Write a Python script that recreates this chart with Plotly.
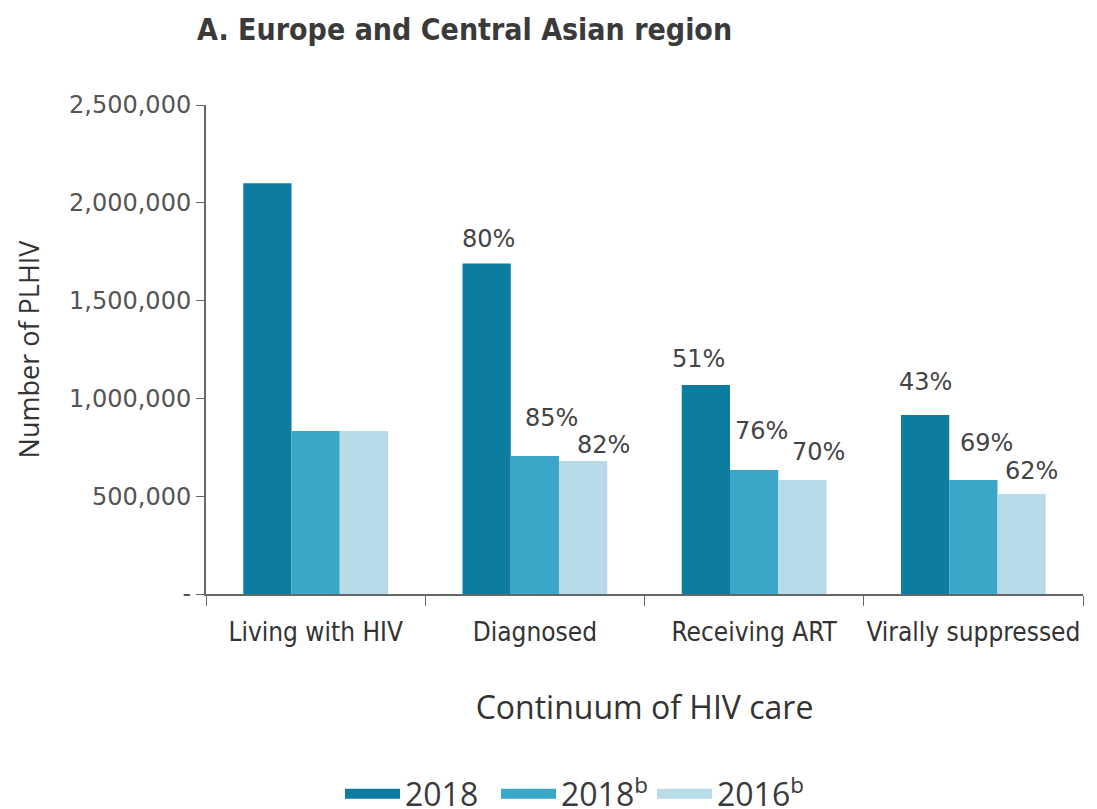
import plotly.graph_objects as go

categories = ["Living with HIV", "Diagnosed", "Receiving ART", "Virally suppressed"]
series_names = ["2018", "2018<sup>b</sup>", "2016<sup>b</sup>"]
vals_2018 = [2100000, 1690000, 1068000, 915000]
vals_2018b = [833000, 705000, 634000, 583000]
vals_2016b = [833000, 680000, 583000, 511000]
labels_2018 = ["", "80%", "51%", "43%"]
labels_2018b = ["", "85%", "76%", "69%"]
labels_2016b = ["", "82%", "70%", "62%"]
colors = ["#0c7da0", "#3aa6c8", "#b7dbe9"]
y_ticks = [0, 500000, 1000000, 1500000, 2000000, 2500000]
y_tick_text = ["-", "500,000", "1,000,000", "1,500,000", "2,000,000", "2,500,000"]

# label placement nudges in pixels (horizontal, vertical above bar top)
label_dx = [[0, 2, -7, 0], [0, 17, 7, 13], [0, 20, 16, 10]]
label_dy = [[0, 8, 10, 17], [0, 22, 23, 21], [0, 0, 12, 7]]

BARGAP = 0.34
series_vals = [vals_2018, vals_2018b, vals_2016b]
series_labels = [labels_2018, labels_2018b, labels_2016b]

fig = go.Figure()
for name, vals, col in zip(series_names, series_vals, colors):
    fig.add_trace(go.Bar(
        x=categories, y=vals, name=name, marker=dict(color=col, line=dict(width=0)),
        showlegend=False, hoverinfo="x+y",
    ))
    # legend key drawn as a thick line swatch
    fig.add_trace(go.Scatter(
        x=[None], y=[None], mode="lines", name=name,
        line=dict(color=col, width=22), showlegend=True, hoverinfo="skip",
    ))

bar_w = (1 - BARGAP) / len(series_vals)
for j, (vals, labs) in enumerate(zip(series_vals, series_labels)):
    for i, (v, t) in enumerate(zip(vals, labs)):
        if not t:
            continue
        fig.add_annotation(
            x=i + (j - 1) * bar_w, y=v, xref="x", yref="y", text=t,
            showarrow=False, xanchor="center", yanchor="bottom",
            xshift=label_dx[j][i], yshift=label_dy[j][i],
            font=dict(family="DejaVu Sans", size=24, color="#444"),
        )

fig.update_layout(
    width=1097, height=809,
    margin=dict(l=198, r=22, t=97, b=223),
    paper_bgcolor="white", plot_bgcolor="white",
    barmode="group", bargap=BARGAP, bargroupgap=0,
    title=dict(text="<b>A. Europe and Central Asian region</b>",
               x=189/1097, xanchor="left", xref="container",
               y=1-21/809, yanchor="middle", yref="container",
               font=dict(family="DejaVu Sans Condensed", size=30, color="#3a3a3a")),
    showlegend=True,
    legend=dict(orientation="h", x=566/1097, xanchor="center", xref="container",
                y=1-786/809, yanchor="middle", yref="container",
                font=dict(family="Open Sans", size=32, color="#3a3a3a"),
                itemwidth=55, tracegroupgap=0, entrywidth=86),
    xaxis=dict(
        tickson="boundaries", ticks="outside", ticklen=10, tickcolor="#666",
        showline=True, linecolor="#666", linewidth=2, tickangle=0, automargin=False,
        ticklabelstandoff=14,
        tickfont=dict(family="DejaVu Sans Condensed", size=26, color="#333"),
        title=dict(text="Continuum of HIV care", standoff=50,
                   font=dict(family="Open Sans", size=32, color="#333")),
        showgrid=False,
    ),
    yaxis=dict(
        range=[0, 2500000], tickvals=y_ticks, ticktext=y_tick_text,
        ticks="outside", ticklen=8, tickcolor="#666", automargin=False,
        showline=True, linecolor="#666", linewidth=2,
        tickfont=dict(family="DejaVu Sans", size=24, color="#555"),
        title=dict(text="Number of PLHIV", standoff=22,
                   font=dict(family="Open Sans", size=27, color="#333")),
        showgrid=False, zeroline=False,
    ),
)

fig.write_html("out.html")
